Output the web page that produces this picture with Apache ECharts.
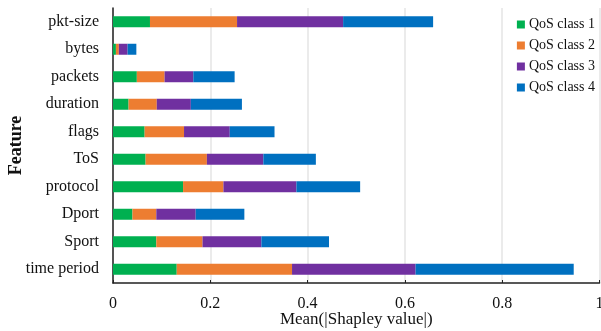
<!DOCTYPE html>
<html><head><meta charset="utf-8">
<script src="https://cdn.jsdelivr.net/npm/echarts@6/dist/echarts.min.js"></script>
<style>html,body{margin:0;padding:0;background:#fff}#c{width:601px;height:331px}</style>
</head><body><div id="c"></div>
<script>
// categories listed bottom to top
const categories = ['time period','Sport','Dport','protocol','ToS','flags','duration','packets','bytes','pkt-size'];
const seriesNames = ['QoS class 1','QoS class 2','QoS class 3','QoS class 4'];
const class1 = [0.131, 0.089, 0.040, 0.144, 0.067, 0.065, 0.032, 0.049, 0.006, 0.076];
const class2 = [0.237, 0.095, 0.049, 0.083, 0.126, 0.081, 0.058, 0.057, 0.006, 0.179];
const class3 = [0.254, 0.121, 0.081, 0.150, 0.116, 0.094, 0.070, 0.059, 0.018, 0.218];
const class4 = [0.325, 0.139, 0.100, 0.131, 0.108, 0.092, 0.105, 0.085, 0.018, 0.185];
const xTicks = [0, 0.2, 0.4, 0.6, 0.8, 1];
const colors = ['#00b050','#ed7d31','#7030a0','#0070c0'];
const font = '"Liberation Serif", "DejaVu Serif", serif';
const chart = echarts.init(document.getElementById('c'));
const data = [class1, class2, class3, class4];
chart.setOption({
  animation: false,
  textStyle: {fontFamily: font},
  grid: {left: 113, right: 1.5, top: 8, bottom: 48, containLabel: false, outerBoundsMode: 'none'},
  legend: {
    orient: 'vertical', right: 1, top: 12, itemWidth: 8, itemHeight: 8, itemGap: 6,
    icon: 'rect',
    textStyle: {fontFamily: font, fontSize: 14, color: '#111', padding: [0,0,0,-1], lineHeight: 15},
    data: seriesNames
  },
  xAxis: {
    type: 'value', min: 0, max: 1, interval: 0.2,
    name: 'Mean(|Shapley value|)', nameLocation: 'middle', nameGap: 28, nameMoveOverlap: false,
    nameTextStyle: {fontFamily: font, fontSize: 17, color: '#111'},
    axisLine: {show: true, lineStyle: {color: '#222', width: 1.5}},
    axisTick: {show: true, inside: true, length: 3, lineStyle: {color: '#222'}},
    axisLabel: {fontFamily: font, fontSize: 16, color: '#111', margin: 13,
      formatter: v => xTicks.includes(+v.toFixed(1)) ? String(+v.toFixed(1)) : ''},
    splitLine: {show: true, lineStyle: {color: '#e4e4e4', width: 1.5}}
  },
  yAxis: {
    type: 'category', data: categories,
    name: 'Feature', nameLocation: 'middle', nameGap: 88, nameRotate: 90, nameMoveOverlap: false,
    nameTextStyle: {fontFamily: font, fontSize: 18, fontWeight: 'bold', color: '#111'},
    axisLine: {show: true, lineStyle: {color: '#222', width: 1.5}},
    axisTick: {show: false},
    axisLabel: {fontFamily: font, fontSize: 16, color: '#111', margin: 14},
    splitLine: {show: false}
  },
  series: seriesNames.map((n, i) => ({
    name: n, type: 'bar', stack: 'total', barWidth: 11,
    itemStyle: {color: colors[i]},
    data: data[i]
  }))
});
</script></body></html>
